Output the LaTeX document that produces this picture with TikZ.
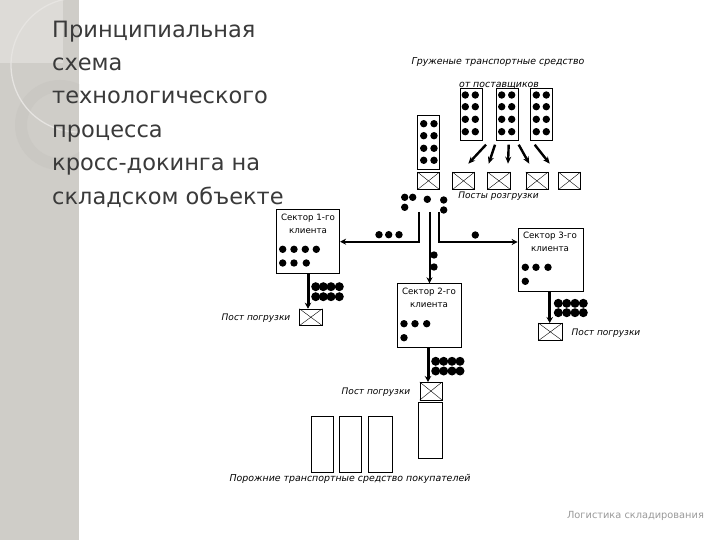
\documentclass[tikz,border=0pt]{standalone}
\usepackage{fontspec}
\setmainfont{DejaVu Sans}
\usepackage{xcolor}
\usetikzlibrary{arrows.meta}
\definecolor{stripgrey}{HTML}{CFCDC8}
\definecolor{cornergrey}{HTML}{DDDBD7}
\definecolor{ringgrey}{HTML}{CAC8C3}
\definecolor{arcgrey}{HTML}{E6E4E1}
\definecolor{titleink}{HTML}{3A3A3A}
\definecolor{footink}{HTML}{9A9A9A}
\tikzset{
  sector/.style={draw, thick, fill=white, anchor=north west, inner sep=0pt},
  post/.style={draw, fill=white, inner sep=0pt, anchor=north west},
  truck/.style={draw, thick, fill=white, inner sep=0pt, anchor=north west},
  caption/.style={font=\fontsize{9.4}{11}\selectfont\itshape, inner sep=0pt, text=black},
  postcaption/.style={font=\fontsize{9}{11}\selectfont\itshape, inner sep=0pt, text=black},
  sectortext/.style={font=\fontsize{8.7}{10}\selectfont, inner sep=0pt, text=black},
  titleline/.style={font=\fontsize{22.5}{26}\selectfont, anchor=base west, inner sep=0pt, text=titleink},
  flow/.style={line width=2pt, -{Stealth[length=6pt,width=6pt]}},
  flowslant/.style={line width=2.4pt, -{Stealth[length=7pt,width=6pt]}},
  flowthick/.style={line width=3pt, -{Stealth[length=6pt,width=6.5pt]}},
  pack/.style={circle, fill=black, inner sep=0pt, minimum size=7.4pt},
  packbig/.style={circle, fill=black, inner sep=0pt, minimum size=9pt}
}
% one loading post: a box with its two diagonals
\newcommand{\postbox}[5]{%
  \node[post, minimum width=#4pt, minimum height=#5pt] (#1) at (#2,#3) {};
  \draw (#1.north west) -- (#1.south east);
  \draw (#1.south west) -- (#1.north east);
}
\begin{document}
\begin{tikzpicture}[x=1pt, y=-1pt]
  \useasboundingbox (0,0) rectangle (720,540);
  \fill[white] (0,0) rectangle (720,540);

  % left strip
  \begin{scope}
    \clip (0,0) rectangle (79,540);
    \fill[stripgrey] (0,0) rectangle (79,540);
    \fill[cornergrey] (0,0) rectangle (63,63);
    \fill[ringgrey, even odd rule] (60,125) circle (45) (60,125) circle (33);
    \draw[arcgrey, line width=1.3pt] (78,65) circle (67);
  \end{scope}

  % title
  \node[titleline] (t1) at (52,38) {Принципиальная};
  \node[titleline] (t2) at (52,71) {схема};
  \node[titleline] (t3) at (52,104) {технологического};
  \node[titleline] (t4) at (52,138) {процесса};
  \node[titleline] (t5) at (52,171) {кросс-докинга на};
  \node[titleline] (t6) at (52,205) {складском объекте};

  % captions
  \node[caption] (supply1) at (498,62) {Груженые транспортные средство};
  \node[caption] (supply2) at (499,86) {от поставщиков};
  \node[postcaption] (unload) at (498.5,196) {Посты розгрузки};
  \node[postcaption] (load1) at (256,318) {Пост погрузки};
  \node[postcaption] (load2) at (606,332.7) {Пост погрузки};
  \node[postcaption] (load3) at (376,392) {Пост погрузки};
  \node[caption] (empty) at (350,479.3) {Порожние транспортные средство покупателей};
  \node[font=\fontsize{9.8}{11}\selectfont, text=footink, inner sep=0pt] (foot) at (635.5,516) {Логистика складирования};

  % loaded trucks
  \foreach \name/\x/\y/\h in {tr0/417.3/115.3/54, tr1/459.7/87.7/52.6, tr2/495.7/87.7/52.6, tr3/530.3/87.7/52.6}
    \node[truck, minimum width=22pt, minimum height=\h pt] (\name) at (\x,\y) {};
  \foreach \x in {465.3,475.3,501.7,511.7,536.3,546.3}
    \foreach \y in {95,106.7,119.3,131.7}
      \node[pack] at (\x,\y) {};
  \foreach \x in {423.7,434}
    \foreach \y in {123.7,135.7,148.3,160.3}
      \node[pack] at (\x,\y) {};

  % unloading posts
  \postbox{u1}{417.3}{172}{22}{17.3}
  \postbox{u2}{452.3}{172}{22}{17.3}
  \postbox{u3}{487.3}{172}{23}{17.3}
  \postbox{u4}{525.7}{172}{22}{17.3}
  \postbox{u5}{558.3}{172}{22}{17.3}

  % from the trucks to the posts
  \coordinate (a1) at (486,144.7); \coordinate (b1) at (468.3,163.7);
  \coordinate (a2) at (495,144.7); \coordinate (b2) at (488.7,163.7);
  \coordinate (a3) at (508.7,144.7); \coordinate (b3) at (508,163.7);
  \coordinate (a4) at (518.7,144.7); \coordinate (b4) at (529.3,163.7);
  \coordinate (a5) at (534.7,144.7); \coordinate (b5) at (549.7,163.7);
  \foreach \i in {1,...,5}
    \draw[flowslant] (a\i) -- (b\i);

  % sectors
  \node[sector, minimum width=63.6pt, minimum height=64pt] (s1) at (275.7,209.3) {};
  \node[sector, minimum width=64pt, minimum height=64pt] (s2) at (396.7,283.3) {};
  \node[sector, minimum width=65pt, minimum height=63.6pt] (s3) at (517.7,227.7) {};
  \node[sectortext] (s1a) at (308,218) {Сектор 1-го};
  \node[sectortext] (s1b) at (308,231) {клиента};
  \node[sectortext] (s2a) at (429,292) {Сектор 2-го};
  \node[sectortext] (s2b) at (429,305) {клиента};
  \node[sectortext] (s3a) at (550,235.7) {Сектор 3-го};
  \node[sectortext] (s3b) at (550,249) {клиента};

  % loading posts and trucks
  \postbox{p1}{299.3}{308.7}{22.7}{16.6}
  \postbox{p3}{538.3}{323}{23.7}{17.3}
  \postbox{p2}{419.7}{382}{22}{17.7}
  \node[truck, minimum width=23.4pt, minimum height=55.4pt] (e4) at (418.3,402.3) {};
  \node[truck, minimum width=22pt, minimum height=55.4pt] (e1) at (310.7,416.3) {};
  \node[truck, minimum width=22pt, minimum height=55.4pt] (e2) at (339.3,416.3) {};
  \node[truck, minimum width=23.4pt, minimum height=55.4pt] (e3) at (368.3,416.3) {};

  % distribution lines
  \coordinate (c1) at (419,212);
  \coordinate (c2) at (429.5,212);
  \coordinate (c3) at (439.3,212);
  \draw[flow] (c1) |- (s1.east |- 0,241.7);
  \draw[flow] (c2) -- (c2 |- s2.north);
  \draw[flow] (c3) |- (s3.west |- 0,242);
  \draw[flowthick] (s1.south -| 308,0) -- (p1.north -| 308,0);
  \draw[flowthick] (s2.south -| 428,0) -- (p2.north -| 428,0);
  \draw[flowthick] (s3.south -| 549.7,0) -- (p3.north -| 549.7,0);

  % packs on the way and in the sectors
  \foreach \x/\y in {404.7/197.3, 412.7/197.3, 404.7/207.3, 427.3/199.3, 443.7/200, 443.7/210,
      379/234.7, 388.7/234.7, 399/234.7, 434/255, 434/267, 475.3/235,
      282.7/249.3, 294/249.3, 305.3/249.3, 316.3/249.3, 282.7/263, 294/263, 306.3/263,
      404/323.7, 415/323.7, 426.7/323.7, 404/337.7,
      525.3/267.3, 536/267.3, 548/267.3, 525.3/281.3}
    \node[pack] at (\x,\y) {};
  \foreach \x in {315.7,323.3,331,339.3}
    \foreach \y in {286.7,296.7}
      \node[packbig] at (\x,\y) {};
  \foreach \x in {435.7,443.7,452,460}
    \foreach \y in {361.3,371}
      \node[packbig] at (\x,\y) {};
  \foreach \x in {558.3,566.7,575,583.3}
    \foreach \y in {303.3,312.7}
      \node[packbig] at (\x,\y) {};
\end{tikzpicture}
\end{document}
